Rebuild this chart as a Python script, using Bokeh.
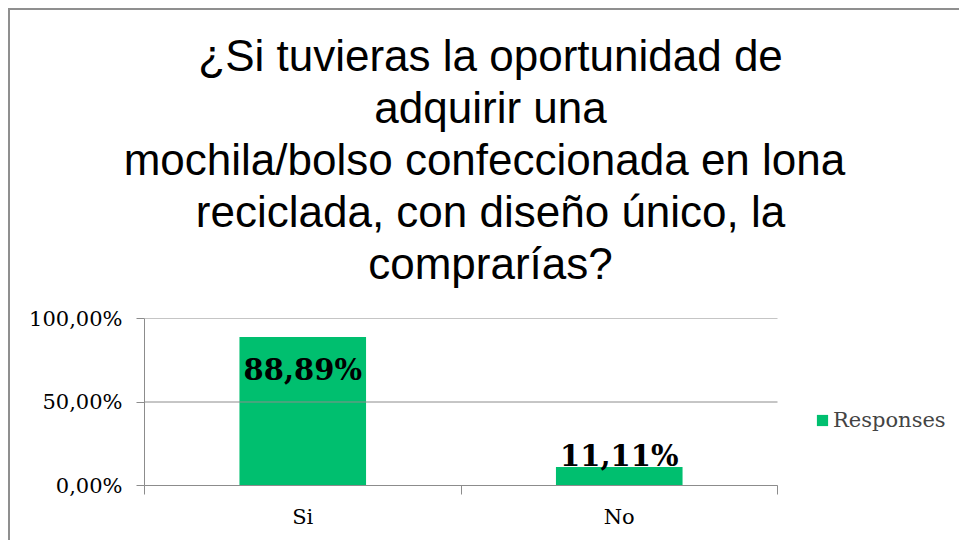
from bokeh.plotting import figure
from bokeh.models import (Title, Legend, LegendItem, FixedTicker, ColumnDataSource, Range1d, LinearAxis)
from bokeh.core.properties import value
from bokeh.embed import file_html
from bokeh.resources import INLINE

# ---- data ----
categories = ["Si", "No"]
values = [0.8889, 0.1111]
value_labels = ["88,89%", "11,11%"]
y_ticks = [0.0, 0.5, 1.0]
y_tick_labels = ["0,00%", "50,00%", "100,00%"]
series_name = "Responses"
title_lines = [
    "¿Si tuvieras la oportunidad de",
    "adquirir una",
    "mochila/bolso  confeccionada en lona",
    "reciclada, con diseño único, la",
    "comprarías?",
]

GREEN = "#00BF6F"
GRID = "#8c8c8c"
SERIF = "DejaVu Serif"
SANS = "Liberation Sans"
TITLE_PX = 44

# approximate Liberation Sans advance widths (em) used to centre title lines
_W = {" ": .278, "¿": .611, "S": .667, "i": .222, "t": .278, "u": .556, "v": .5,
      "e": .556, "r": .333, "a": .556, "s": .5, "l": .222, "o": .556, "p": .556,
      "n": .556, "d": .556, "q": .556, "m": .833, "c": .5, "h": .556, "/": .278,
      "b": .556, "f": .278, ",": .278, "ñ": .556, "ú": .556, "í": .278, "?": .556}
def text_w(s):
    return sum(_W.get(ch, .556) for ch in s) * TITLE_PX

# layout (pixels inside the figure canvas)
FIG_W, FIG_H = 951, 532
FRAME_LEFT, PLOT_RIGHT, FRAME_TOP, FRAME_BOTTOM = 134, 767, 308, 475
n = len(categories)
x_end = n * (FIG_W - FRAME_LEFT) / (PLOT_RIGHT - FRAME_LEFT)  # frame extends right to hold the legend

xs = [i + 0.5 for i in range(n)]
label_offsets = [33 if v > 0.8 else -11 for v in values]
src = ColumnDataSource(dict(x=xs, value=values, label=value_labels, yoff=label_offsets))

p = figure(width=FIG_W, height=FIG_H,
           x_range=Range1d(0, x_end), y_range=Range1d(0, 1),
           output_backend="svg", toolbar_location=None,
           min_border_left=FRAME_LEFT, min_border_right=0,
           min_border_top=FRAME_TOP, min_border_bottom=FIG_H - FRAME_BOTTOM,
           background_fill_color="white", border_fill_color="white")
p.styles = {"margin-left": "8px", "margin-top": "8px",
            "border-top": "2px solid #8f8f8f", "border-left": "2px solid #8f8f8f"}
p.outline_line_color = None

# invisible spacer between the title block and the plot area
spacer = LinearAxis(ticker=FixedTicker(ticks=[0.0], minor_ticks=[]),
                    major_label_overrides={0.0: ""},
                    major_tick_out=30, major_tick_in=0, minor_tick_out=0,
                    major_label_standoff=0, major_label_text_font_size="1px",
                    axis_line_color=None, major_tick_line_color="white",
                    minor_tick_line_color=None)
p.add_layout(spacer, "above")

TITLE_CENTER = 346  # px from frame left

def style_title(t):
    t.text_font = SANS
    t.text_font_size = f"{TITLE_PX}px"
    t.text_font_style = "normal"
    t.text_color = "black"
    t.align = "left"
    t.offset = TITLE_CENTER - text_w(t.text) / 2
    t.standoff = 1

# added titles stack upward from the frame; figure's own title is outermost
for line in reversed(title_lines[1:]):
    t = Title(text=line)
    style_title(t)
    p.add_layout(t, "above")
p.title.text = title_lines[0]
style_title(p.title)

bars = p.vbar(x="x", top="value", width=0.4, source=src, fill_color=GREEN, line_color=None)

p.text(x="x", y="value", text="label", source=src, y_offset="yoff",
       text_align="center", text_baseline="alphabetic",
       text_font=value(SERIF), text_font_style="bold", text_font_size="29px",
       text_color="black")

# horizontal gridlines limited to the category area
p.segment(x0=0, x1=n, y0=y_ticks, y1=y_ticks, line_color=GRID, line_width=1)
p.xgrid.grid_line_color = None
p.ygrid.grid_line_color = None

# y axis
p.yaxis.ticker = FixedTicker(ticks=y_ticks, minor_ticks=[])
p.yaxis.major_label_overrides = {t: l for t, l in zip(y_ticks, y_tick_labels)}
p.yaxis.axis_line_color = GRID
p.yaxis.major_tick_line_color = GRID
p.yaxis.major_tick_out = 8
p.yaxis.major_tick_in = 0
p.yaxis.minor_tick_line_color = None
p.yaxis.major_label_text_font = SERIF
p.yaxis.major_label_text_font_size = "21px"
p.yaxis.major_label_text_color = "black"
p.yaxis.major_label_standoff = 14

# x axis
xaxis = p.below[0]
xaxis.bounds = (0, n)
xaxis.ticker = FixedTicker(ticks=xs, minor_ticks=list(range(n + 1)))
xaxis.major_label_overrides = {x: c for x, c in zip(xs, categories)}
xaxis.axis_line_color = GRID
xaxis.major_tick_line_color = None
xaxis.minor_tick_line_color = GRID
xaxis.minor_tick_out = 9
xaxis.minor_tick_in = 0
xaxis.major_label_text_font = SERIF
xaxis.major_label_text_font_size = "21px"
xaxis.major_label_text_color = "black"
xaxis.major_label_standoff = 10

legend = Legend(items=[LegendItem(label=series_name, renderers=[bars])],
                location=(671, 53), orientation="vertical",
                glyph_width=14, glyph_height=14, label_standoff=4,
                label_text_font=SERIF, label_text_font_size="21px",
                padding=0, margin=0, spacing=0,
                border_line_color=None, background_fill_alpha=0)
p.add_layout(legend, "center")

open("out.html", "w").write(file_html(p, INLINE))
